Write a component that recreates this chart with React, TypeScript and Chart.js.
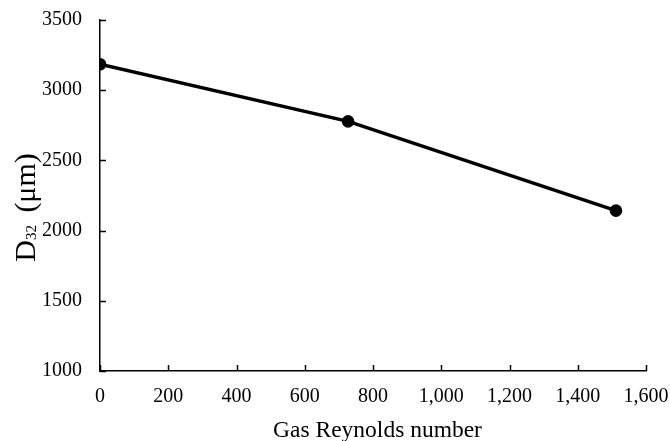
import React, { useEffect, useRef } from "react";
import { Chart, registerables } from "chart.js";

Chart.register(...registerables);

const reynolds = [0, 727, 1512];
const d32 = [3185, 2778, 2142];
const xTitle = "Gas Reynolds number";
const yTitleMain = "D";
const yTitleSub = "32";
const yTitleRest = " (μm)";

const FONT = "'Liberation Serif', 'Times New Roman', serif";

const zeroPad = (s: any) => {
  s.paddingLeft = 0;
  s.paddingRight = 0;
  s.paddingTop = 0;
  s.paddingBottom = 0;
};

const innerTicks = {
  id: "innerTicks",
  beforeDatasetsDraw(chart: any) {
    const { ctx, chartArea, scales } = chart;
    ctx.save();
    ctx.strokeStyle = "#000";
    ctx.lineWidth = 1.5;
    const xs = scales.x;
    xs.ticks.forEach((_t: any, i: number) => {
      const px = Math.round(xs.getPixelForTick(i)) + 0.5;
      ctx.beginPath();
      ctx.moveTo(px, chartArea.bottom);
      ctx.lineTo(px, chartArea.bottom - 6);
      ctx.stroke();
    });
    const ys = scales.y;
    ys.ticks.forEach((_t: any, i: number) => {
      const py = Math.round(ys.getPixelForTick(i)) + 0.5;
      ctx.beginPath();
      ctx.moveTo(chartArea.left, py);
      ctx.lineTo(chartArea.left + 6, py);
      ctx.stroke();
    });
    ctx.restore();
  },
  afterDraw(chart: any) {
    const { ctx } = chart;
    ctx.save();
    ctx.fillStyle = "#000";
    // x title
    ctx.font = `23.5px ${FONT}`;
    ctx.textAlign = "center";
    ctx.textBaseline = "alphabetic";
    ctx.fillText(xTitle, 377.5, 437);
    // y title with subscript
    ctx.translate(35, 207.5);
    ctx.rotate(-Math.PI / 2);
    ctx.textBaseline = "alphabetic";
    ctx.textAlign = "left";
    const mainFont = `30px ${FONT}`;
    const subFont = `15px ${FONT}`;
    const gap = 5;
    ctx.font = mainFont;
    const w1 = ctx.measureText(yTitleMain).width;
    const w3 = ctx.measureText(yTitleRest).width;
    ctx.font = subFont;
    const w2 = ctx.measureText(yTitleSub).width;
    const total = w1 + w2 + gap + w3;
    let x = -total / 2;
    ctx.font = mainFont;
    ctx.fillText(yTitleMain, x, 0);
    x += w1;
    ctx.font = subFont;
    ctx.fillText(yTitleSub, x, 1);
    x += w2 + gap;
    ctx.font = mainFont;
    ctx.fillText(yTitleRest, x, 0);
    ctx.restore();
  },
};

export default function App() {
  const ref = useRef<HTMLCanvasElement | null>(null);
  useEffect(() => {
    if (!ref.current) return;
    const chart = new Chart(ref.current, {
      type: "scatter",
      data: {
        datasets: [
          {
            data: reynolds.map((x, i) => ({ x, y: d32[i] })),
            showLine: true,
            borderColor: "#000",
            backgroundColor: "#000",
            borderWidth: 3.5,
            pointRadius: 6.3,
            pointBackgroundColor: "#000",
            pointBorderColor: "#000",
            pointBorderWidth: 0,
          },
        ],
      },
      options: {
        responsive: false,
        animation: false,
        layout: { padding: { top: 20, right: 24, left: 0, bottom: 0 } },
        plugins: { legend: { display: false }, tooltip: { enabled: false } },
        scales: {
          x: {
            type: "linear",
            min: 0,
            max: 1600,
            afterFit: (s: any) => {
              s.height = 70;
              zeroPad(s);
            },
            ticks: {
              stepSize: 200,
              color: "#000",
              font: { family: FONT, size: 20 },
              padding: 14,
              maxRotation: 0,
              callback: (v: any) => Number(v).toLocaleString("en-US"),
            },
            grid: { display: true, drawOnChartArea: false, drawTicks: false },
            border: { display: true, color: "#000", width: 1.5 },
          },
          y: {
            type: "linear",
            min: 1000,
            max: 3500,
            afterFit: (s: any) => {
              s.width = 100;
              zeroPad(s);
            },
            ticks: {
              stepSize: 500,
              color: "#000",
              font: { family: FONT, size: 20 },
              padding: 18,
              callback: (v: any) => String(v),
            },
            grid: { display: true, drawOnChartArea: false, drawTicks: false },
            border: { display: true, color: "#000", width: 1.5 },
          },
        },
      },
      plugins: [innerTicks],
    });
    return () => chart.destroy();
  }, []);
  return (
    <div style={{ position: "absolute", left: 0, top: 0, width: 670, height: 441, background: "#fff" }}>
      <canvas ref={ref} width={670} height={441} style={{ display: "block" }} />
    </div>
  );
}
